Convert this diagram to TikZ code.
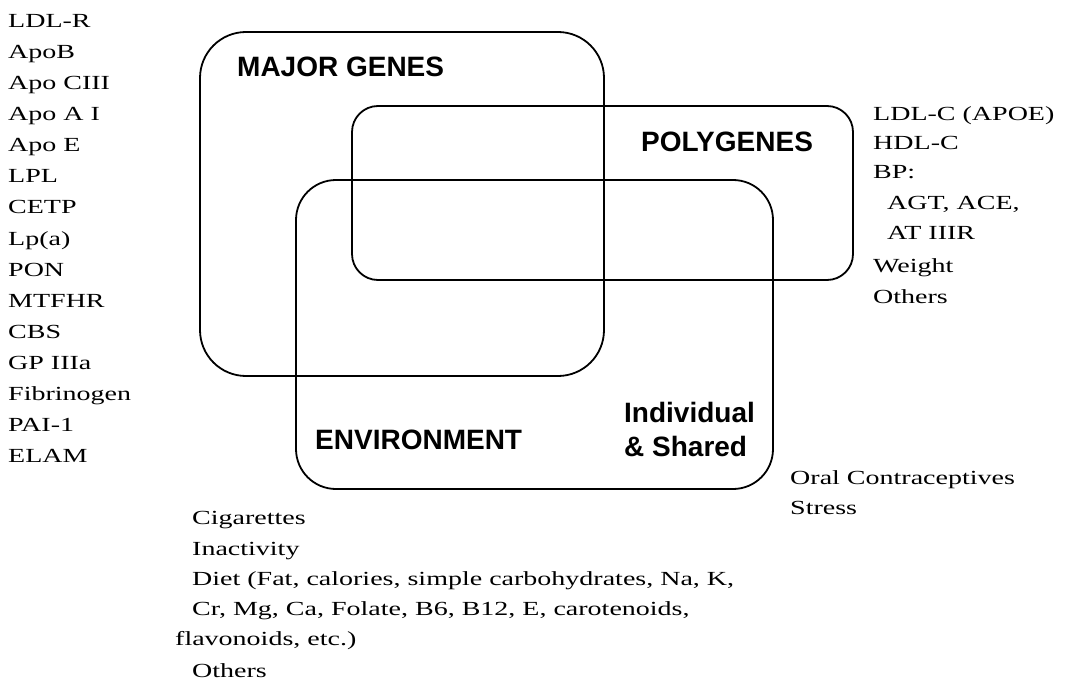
\documentclass[tikz,border=0pt]{standalone}
\usepackage{fontspec}
\newfontfamily\txt[FakeStretch=1.4]{Liberation Serif}
\newfontfamily\lbl{Liberation Sans}
\begin{document}
\begin{tikzpicture}[x=1pt,y=-1pt,
  box/.style={draw, line width=1.8pt, inner sep=0pt},
  item/.style={font=\txt\fontsize{20}{24}\selectfont, anchor=base west, inner sep=0pt},
  title/.style={font=\lbl\bfseries\fontsize{28}{32}\selectfont, anchor=base west, inner sep=0pt}]
\useasboundingbox (0,0) rectangle (1065,679);
% boxes
\node[box, rounded corners=46pt, minimum width=404pt, minimum height=344pt] (major) at (402,204) {};
\node[box, rounded corners=26pt, minimum width=501pt, minimum height=174pt] (poly) at (602.5,193) {};
\node[box, rounded corners=40pt, minimum width=477pt, minimum height=309pt] (env) at (534.5,334.5) {};
% titles
\node[title] (tmajor) at (237,77) {MAJOR GENES};
\node[title] (tpoly) at (641,152) {POLYGENES};
\node[title] (tenv) at (315,449) {ENVIRONMENT};
\node[title] (tind) at (624,422) {Individual};
\node[title] (tsh) at (624,456) {\& Shared};
% left list
\foreach \t [count=\i from 0] in {LDL-R,ApoB,Apo CIII,Apo A I,Apo E,LPL,CETP,Lp(a),PON,MTFHR,CBS,GP IIIa,Fibrinogen,PAI-1,ELAM}
  \node[item] (l\i) at (8,28+31*\i) {\t};
% right list
\node[item] (r0) at (873,121) {LDL-C (APOE)};
\node[item] (r1) at (873,150) {HDL-C};
\node[item] (r2) at (873,179) {BP:};
\node[item] (r3) at (887,209) {AGT, ACE,};
\node[item] (r4) at (887,240) {AT IIIR};
\node[item] (r5) at (873,272) {Weight};
\node[item] (r6) at (873,303) {Others};
% bottom list
\node[item] (b0) at (192,524) {Cigarettes};
\node[item] (b1) at (192,555) {Inactivity};
\node[item] (b2) at (192,585) {Diet (Fat, calories, simple carbohydrates, Na, K,};
\node[item] (b3) at (192,615) {Cr, Mg, Ca, Folate, B6, B12, E, carotenoids,};
\node[item] (b4) at (175,645) {flavonoids, etc.)};
\node[item] (b5) at (192,677) {Others};
% right bottom
\node[item] (o0) at (790,484) {Oral Contraceptives};
\node[item] (o1) at (790,514) {Stress};
\end{tikzpicture}
\end{document}
